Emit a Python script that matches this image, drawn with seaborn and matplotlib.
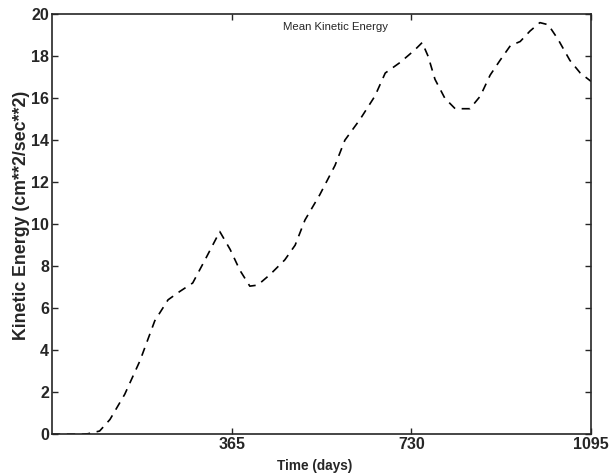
import matplotlib
matplotlib.use("Agg")
import matplotlib.pyplot as plt
import seaborn as sns
import pandas as pd

days = [0, 60, 73, 97, 118, 148, 179, 209, 236, 260, 286, 311, 331, 341, 362, 382, 402,
        418, 443, 473, 494, 514, 544, 575, 595, 626, 656, 677, 707, 737, 752, 764, 778,
        798, 819, 849, 870, 890, 910, 931, 951, 971, 991, 1008, 1028, 1052, 1073, 1095]
energy = [0.0, 0.0, 0.02, 0.15, 0.7, 1.9, 3.5, 5.4, 6.4, 6.8, 7.2, 8.3, 9.2, 9.65, 8.8, 7.8, 7.05,
          7.1, 7.6, 8.3, 9.0, 10.2, 11.4, 12.8, 14.0, 15.0, 16.1, 17.2, 17.7, 18.3, 18.65, 18.0, 16.9,
          16.0, 15.5, 15.5, 16.1, 17.1, 17.8, 18.5, 18.7, 19.2, 19.6, 19.5, 18.8, 17.8, 17.2, 16.8]
xticks = [365, 730, 1095]
yticks = [0, 2, 4, 6, 8, 10, 12, 14, 16, 18, 20]

sns.set_style("ticks")
plt.rcParams['font.family'] = ['Liberation Sans', 'DejaVu Sans']

df = pd.DataFrame({"Time (days)": days, "KE": energy})
fig = plt.figure(figsize=(6.1, 4.74), dpi=100)
ax = fig.add_axes([0.085, 0.084, 0.884, 0.886])
sns.lineplot(data=df, x="Time (days)", y="KE", ax=ax, color="black",
             linestyle=(0, (5, 4)), linewidth=1.2)
ax.set_xlim(0, 1095)
ax.set_ylim(0, 20)
ax.set_xticks(xticks)
ax.set_yticks(yticks)
ax.set_xticklabels([str(t) for t in xticks], fontweight="bold", fontsize=11.5)
ax.set_yticklabels([str(t) for t in yticks], fontweight="bold", fontsize=11.5)
ax.tick_params(direction="in", top=True, right=True, length=4, pad=2, width=1)
for s in ax.spines.values():
    s.set_linewidth(1.2)
    s.set_visible(True)
ax.set_xlabel("Time (days)", fontweight="bold", fontsize=9.8)
ax.xaxis.set_label_coords(0.488, -0.058)
ax.set_ylabel("Kinetic Energy (cm**2/sec**2)", fontweight="bold", fontsize=12.8)
ax.yaxis.set_label_coords(-0.041, 0.52)
ax.text(576, 19.38, "Mean Kinetic Energy", ha="center", va="center", fontsize=8.2)
fig.savefig("out.png", dpi=100)
